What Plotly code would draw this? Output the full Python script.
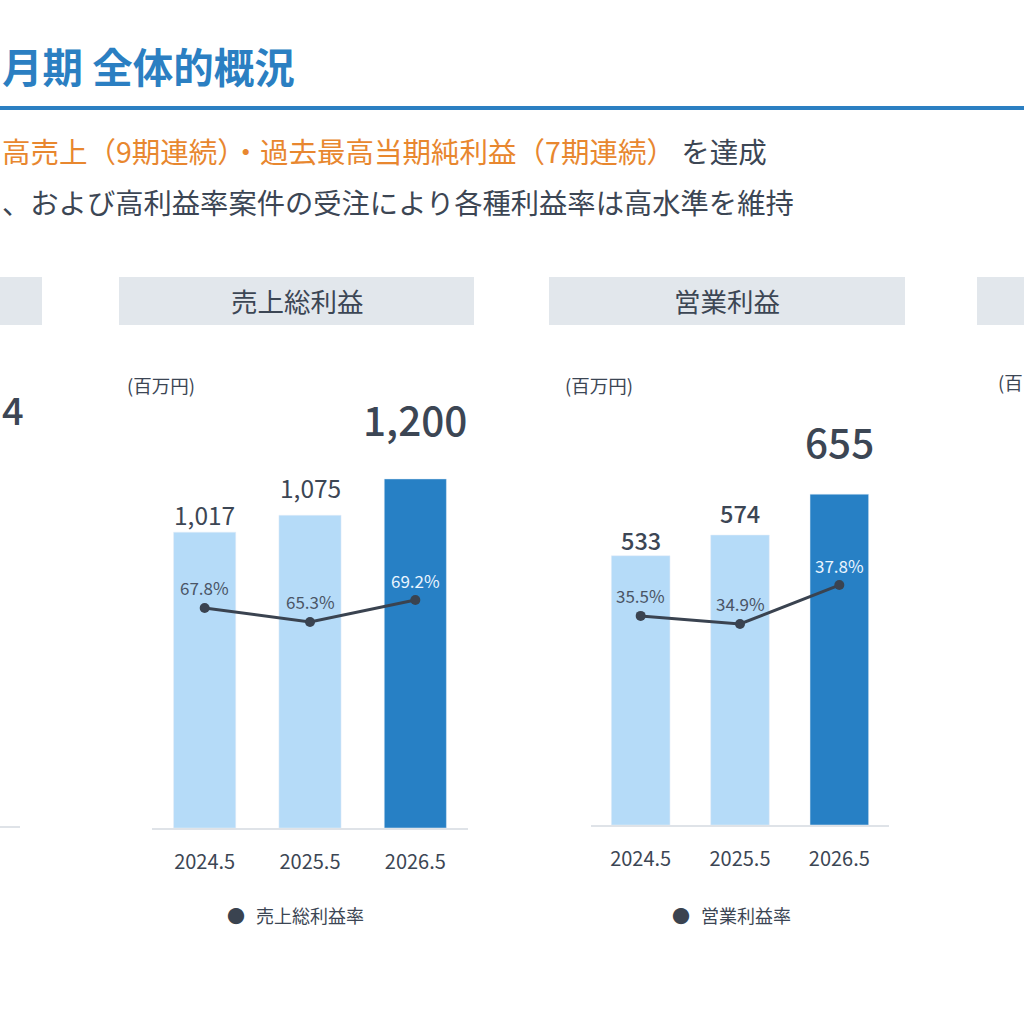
import plotly.graph_objects as go

# data
periods = ["2024.5", "2025.5", "2026.5"]
gross_profit = [1017, 1075, 1200]
gross_margin = [67.8, 65.3, 69.2]
op_profit = [533, 574, 655]
op_margin = [35.5, 34.9, 37.8]

title_text = "月期 全体的概況"
line1_orange = "高売上（9期連続）・過去最高当期純利益（7期連続）"
line1_gray = "を達成"
line2_text = "、および高利益率案件の受注により各種利益率は高水準を維持"
panel_titles = ["売上総利益", "営業利益"]
legend_names = ["売上総利益率", "営業利益率"]
unit_label = "(百万円)"

FONT = "Noto Sans CJK JP"
TXT = "#3c4654"
BLUE = "#2b7fc2"
ORANGE = "#e8872f"
LIGHT = "#b5dbf8"
DARK = "#2780c5"
LINE = "#3a4350"
HEAD_BG = "#e2e7ec"
W = H = 1024


def px(x):
    return x / W


def py(y):
    return 1 - y / H


def note(x, y, text, size, color=TXT, xanchor="left", weight=400, **kw):
    return dict(x=px(x), y=py(y), xref="paper", yref="paper", xanchor=xanchor,
                yanchor="middle", text=text, showarrow=False,
                font=dict(family=FONT, size=size, color=color, weight=weight), **kw)


fig = go.Figure()

bar_colors = [LIGHT, LIGHT, DARK]

# panel 1: gross profit
fig.add_trace(go.Bar(x=periods, y=gross_profit, marker_color=bar_colors,
                     xaxis="x", yaxis="y", showlegend=False, hoverinfo="skip"))
fig.add_trace(go.Scatter(x=periods, y=gross_margin, mode="lines+markers",
                         line=dict(color=LINE, width=3), marker=dict(size=10, color=LINE),
                         xaxis="x", yaxis="y2", showlegend=False, hoverinfo="skip"))
# panel 2: operating profit
fig.add_trace(go.Bar(x=periods, y=op_profit, marker_color=bar_colors,
                     xaxis="x2", yaxis="y3", showlegend=False, hoverinfo="skip"))
fig.add_trace(go.Scatter(x=periods, y=op_margin, mode="lines+markers",
                         line=dict(color=LINE, width=3), marker=dict(size=10, color=LINE),
                         xaxis="x2", yaxis="y4", showlegend=False, hoverinfo="skip"))

xcommon = dict(type="category", categoryarray=periods, range=[-0.5, len(periods) - 0.5],
               showline=True, linecolor="#dfe3e8", linewidth=2,
               showgrid=False, zeroline=False, ticks="", ticklabelstandoff=15,
               tickfont=dict(family=FONT, size=20, color=TXT), fixedrange=True)
ycommon = dict(visible=False, showgrid=False, zeroline=False, fixedrange=True)

annotations = []
shapes = []

# value labels and rate labels (x given as category index)
panels = [("x", "y", "y2", gross_profit, gross_margin, 24.5, 400, [18, 28, 60]),
          ("x2", "y3", "y4", op_profit, op_margin, 23.5, 500, [16, 22, 54])]
for xr, yr, yr2, vals, rates, small_size, small_w, shifts in panels:
    for i, (v, r) in enumerate(zip(vals, rates)):
        big = i == len(vals) - 1
        annotations.append(dict(
            x=i, y=v, xref=xr, yref=yr, text=f"{v:,}", showarrow=False,
            xanchor="center", yanchor="middle", yshift=shifts[i],
            font=dict(family=FONT, size=40.5 if big else small_size, color=TXT,
                      weight=500 if big else small_w)))
        annotations.append(dict(
            x=i, y=r, xref=xr, yref=yr2, text=f"{r}%", showarrow=False,
            xanchor="center", yanchor="middle", yshift=20,
            font=dict(family=FONT, size=17, color="#eaf5ff" if big else "#4a5566")))

# header text
annotations.append(note(0, 65, f"<b>{title_text}</b>", 40.5, BLUE))
annotations.append(note(0, 150, f"<span style='color:{ORANGE}'>{line1_orange}</span> {line1_gray}",
                        28.5))
annotations.append(note(0, 201, line2_text, 28.3))

shapes.append(dict(type="line", xref="paper", yref="paper", x0=0, x1=1,
                   y0=py(108), y1=py(108), line=dict(color=BLUE, width=4)))

# panel header boxes (two full, two cut off at the edges)
for x0, x1 in [(-10, 42), (119, 474), (549, 905), (977, 1034)]:
    shapes.append(dict(type="rect", xref="paper", yref="paper", x0=px(x0), x1=px(x1),
                       y0=py(325), y1=py(277), fillcolor=HEAD_BG, line=dict(width=0),
                       layer="below"))
for name, cx in zip(panel_titles, [297, 727]):
    annotations.append(note(cx, 300, name, 26.5, xanchor="center"))

# unit labels
for ux in [125, 563]:
    annotations.append(note(ux, 385, unit_label, 18.5))
annotations.append(note(996, 382, "(百", 18.5))

# cut-off panel on the left
annotations.append(note(0, 408, "4", 38, weight=500))
shapes.append(dict(type="line", xref="paper", yref="paper", x0=0, x1=px(20),
                   y0=py(827), y1=py(827), line=dict(color="#dfe3e8", width=2)))

# legends
for name, dx in zip(legend_names, [236, 681]):
    annotations.append(note(dx, 915, "●", 18, LINE, xanchor="center"))
    annotations.append(note(dx + 18, 915, name, 18))

fig.update_layout(
    width=W, height=H, margin=dict(l=0, r=0, t=0, b=0),
    paper_bgcolor="white", plot_bgcolor="white",
    bargap=0.41, showlegend=False,
    font=dict(family=FONT, color=TXT),
    xaxis=dict(domain=[px(152), px(468)], anchor="y", **xcommon),
    yaxis=dict(domain=[py(828), py(380)], range=[0, 1540], anchor="x", **ycommon),
    yaxis2=dict(overlaying="y", range=[28.5, 108.5], anchor="x", **ycommon),
    xaxis2=dict(domain=[px(591), px(889)], anchor="y3", **xcommon),
    yaxis3=dict(domain=[py(825), py(380)], range=[0, 881], anchor="x2", **ycommon),
    yaxis4=dict(overlaying="y3", range=[19.9, 53.1], anchor="x2", **ycommon),
    annotations=annotations,
    shapes=shapes,
)

fig.write_html("out.html", config={"displayModeBar": False},
               post_script="document.body.style.margin = '0';")
